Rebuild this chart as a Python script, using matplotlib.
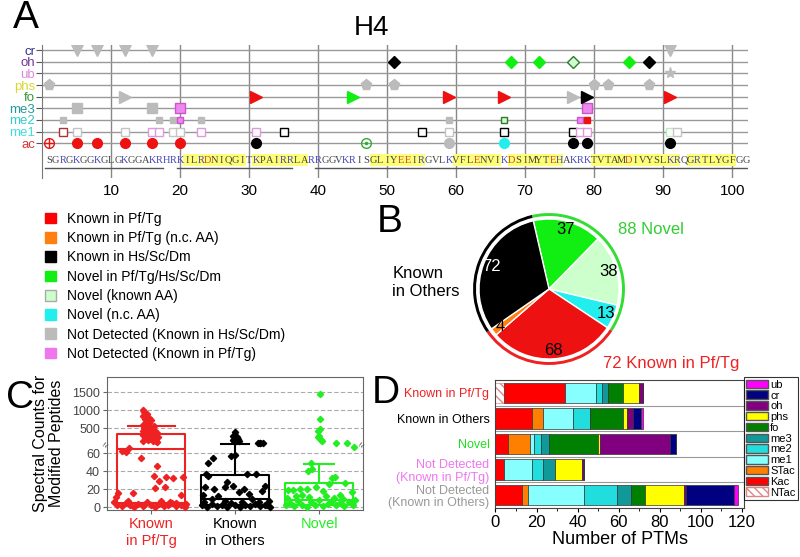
import numpy as np
import matplotlib.pyplot as plt
from matplotlib.patches import Patch

plt.rcParams['font.family'] = ['Liberation Sans', 'DejaVu Sans']

# ---------------- panel A: PTM map on H4
rows = ['ac', 'me1', 'me2', 'me3', 'fo', 'phs', 'ub', 'oh', 'cr']
row_colors = ['#dd3333', '#44dddd', '#33cccc', '#229999', '#339933',
              '#d8d830', '#dd88dd', '#773399', '#333388']
row_markers = ['o', 's', 's', 's', '>', 'p', '*', 'D', 'v']
row_sizes = [7, 6, 4.5, 7, 8, 8, 8, 6, 8]
sequence = "SGRGKGGKGLGKGGAKRHRKILRDNIQGITKPAIRRLARRGGVKRISGLIYEEIRGVLKVFLENVIKDSIMYTEHAKRKTVTAMDIVYSLKRQGRTLYGFGG"

ac_pos = [1, 5, 8, 12, 16, 20, 31, 47, 59, 67, 77, 79, 91]
ac_cat = ['pfo', 'pf', 'pf', 'pf', 'pf', 'pf', 'hs', 'novo', 'nd', 'nc', 'hs', 'hs', 'hs']
me1_pos = [3, 5, 12, 16, 17, 19, 20, 23, 31, 35, 55, 59, 67, 77, 78, 79, 91, 92]
me1_cat = ['pf', 'nd', 'nd', 'ndpf', 'ndpf', 'nd', 'nd', 'ndpf', 'ndpf', 'hs', 'hs', 'nd',
           'hs', 'hs', 'ndpf', 'ndpf', 'novk', 'nd']
me2_pos = [3, 17, 19, 20, 23, 59, 67, 78, 79]
me2_cat = ['nd', 'nd', 'nd', 'ndpf', 'nd', 'nd', 'novk', 'ndpf', 'pf']
me3_pos = [5, 16, 20, 79]
me3_cat = ['nd', 'nd', 'ndpf', 'ndpf']
fo_pos = [12, 31, 45, 59, 67, 77, 79, 91]
fo_cat = ['nd', 'pf', 'nov', 'pf', 'pf', 'nd', 'hs', 'pf']
phs_pos = [1, 47, 51, 80, 82, 88]
phs_cat = ['nd'] * 6
ub_pos = [91]
ub_cat = ['nd']
oh_pos = [51, 68, 72, 77, 85, 88]
oh_cat = ['hs', 'nov', 'nov', 'novk', 'nov', 'hs']
cr_pos = [5, 8, 12, 16, 91]
cr_cat = ['nd'] * 5
row_pos = [ac_pos, me1_pos, me2_pos, me3_pos, fo_pos, phs_pos, ub_pos, oh_pos, cr_pos]
row_cat = [ac_cat, me1_cat, me2_cat, me3_cat, fo_cat, phs_cat, ub_cat, oh_cat, cr_cat]

highlight_spans = [(20.5, 29.5), (30.5, 38.5), (47.5, 55.5), (59.5, 66.5),
                   (67.5, 75.5), (79.5, 92.5), (93.5, 100.5)]
underline_spans = [(0.5, 17.5), (19.6, 36.2), (39.6, 102.3)]

cat_face = {'pf': '#ee1111', 'pfo': 'none', 'hs': 'black', 'nov': '#11ee11',
            'novk': '#ccffcc', 'novo': 'none', 'nc': '#22eeee', 'nd': '#bbbbbb',
            'ndpf': '#ee88ee'}
cat_edge = {'pf': '#ee1111', 'pfo': '#ee1111', 'hs': 'black', 'nov': '#11ee11',
            'novk': '#337733', 'novo': '#33aa33', 'nc': '#22eeee', 'nd': '#bbbbbb',
            'ndpf': '#cc55cc'}
open_edge = {'pf': '#aa3333', 'nd': '#c4c4c4', 'ndpf': '#dd99dd', 'hs': 'black',
             'novk': '#bbeebb'}

# ---------------- panel A legend
legend_labels = ['Known in Pf/Tg', 'Known in Pf/Tg (n.c. AA)', 'Known in Hs/Sc/Dm',
                 'Novel in Pf/Tg/Hs/Sc/Dm', 'Novel (known AA)', 'Novel (n.c. AA)',
                 'Not Detected (Known in Hs/Sc/Dm)', 'Not Detected (Known in Pf/Tg)']
legend_colors = ['#ff0000', '#ff8010', '#000000', '#11ee11', '#ccffcc', '#22eeee',
                 '#bbbbbb', '#ee77ee']

# ---------------- panel B: pie
pie_values = [37, 38, 13, 68, 4, 72]
pie_colors = ['#11ee11', '#ccffcc', '#22eeee', '#ee1111', '#ff8010', '#000000']
pie_text_colors = ['black', 'black', 'black', 'black', 'black', 'white']
ring_values = [88, 72, 72]
ring_colors = ['#33dd33', '#ee2222', '#000000']

# ---------------- panel C: spectral counts
box_names = ['Known\nin Pf/Tg', 'Known\nin Others', 'Novel']
box_colors = ['#ee2222', '#000000', '#22ee22']
box_q1 = [5, 2, 3]
box_med = [64, 9, 8]
box_q3 = [350, 36, 27]
box_whishi = [570, 70, 48]
cap_widths = [0.56, 0.33, 0.36]

red_off = [-0.1, -0.08, -0.05, -0.09, -0.03, -0.07, 0.0, -0.06, -0.02, -0.09, 0.03, -0.04,
           -0.08, 0.01, -0.05, 0.05, -0.1, -0.02, 0.07, -0.06, 0.02, -0.1, 0.04, -0.03,
           0.08, -0.07, 0.0, 0.05, -0.04, 0.06, -0.09, 0.02, 0.07,
           -0.30, -0.26, -0.34, -0.12, 0.07, 0.03, 0.1, 0.05, 0.18, 0.26, 0.38, 0.17,
           0.35, -0.39, -0.21, -0.42, -0.44,
           -0.4, -0.35, -0.3, -0.25, -0.2, -0.15, -0.1, -0.05, 0.0, 0.05, 0.1, 0.15,
           0.2, 0.25, 0.3, 0.35, 0.4, 0.42, -0.28, 0.12, 0.22, -0.08, 0.3]
red_val = [1000, 960, 900, 850, 800, 760, 720, 680, 640, 600, 570, 540, 510, 480, 460,
           440, 420, 400, 380, 360, 340, 320, 300, 280, 260, 240, 220, 200, 180, 160,
           150, 140, 130,
           61, 66, 62, 55, 45.5, 35, 29, 21, 33.7, 32.6, 33.7, 22, 13.3, 16, 16, 11, 6,
           3, 1, 5, 2, 0.5, 4, 1.5, 6, 2, 0.5, 4, 1, 3, 5, 1.5, 3, 0.5, 4, 7, 7, 6, 3, 4.5]
black_off = [0.0, -0.02, 0.02, 0.0, 0.03, -0.03, 0.01, 0.04, -0.01, 0.27, 0.3, 0.33, 0.29,
             -0.26, -0.32, -0.05, 0.0, -0.35, -0.32, 0.14, 0.25, -0.10, -0.36, -0.25,
             -0.12, -0.03, 0.11, 0.35, 0.32, -0.38, -0.2, 0.04, 0.16, -0.28, 0.2, 0.4,
             -0.4, -0.34, -0.28, -0.22, -0.16, -0.1, -0.05, 0.0, 0.06, 0.12, 0.18, 0.24,
             0.3, 0.36, 0.42, -0.37, 0.08, 0.28, -0.12, 0.38]
black_val = [412, 300, 250, 220, 200, 180, 165, 150, 140, 100, 100, 100, 95,
             55, 49, 57, 58, 36.7, 34.4, 36.7, 36.7, 28, 22.6, 20, 22.6, 23.3, 20.7,
             23.7, 18, 13.3, 12.2, 17, 14.4, 9, 9, 7,
             2, 0.5, 4, 1, 3, 0.5, 5, 2, 0.5, 3, 1, 4, 1.5, 3, 0.5, 6, 6, 6, 7, 2]
green_off = [0.01, 0.01, 0.01, -0.01, 0.0, -0.01, 0.02, 0.03, 0.2, 0.33, 0.41,
             -0.13, -0.09, -0.10, 0.15, 0.19, 0.31, -0.04, -0.23, -0.31, -0.15, -0.37,
             0.39, 0.11, 0.05, 0.25, -0.2,
             -0.4, -0.35, -0.3, -0.25, -0.2, -0.15, -0.1, -0.05, 0.0, 0.05, 0.1, 0.15,
             0.2, 0.25, 0.3, 0.35, 0.4, -0.38, -0.12, 0.08, 0.28, 0.42, -0.28, 0.18]
green_val = [1460, 755, 478, 420, 300, 250, 180, 150, 85, 85, 67,
             40, 42, 48.5, 32, 33, 27, 22.6, 20.7, 19, 20, 19, 17, 26, 18, 14, 14,
             2, 5, 1, 7, 3, 0.5, 6, 2, 8, 1, 4, 7, 2, 5, 1, 6, 3, 10, 11, 12, 9, 8,
             12, 10]
point_off = [red_off, black_off, green_off]
point_val = [red_val, black_val, green_val]

# ---------------- panel D: PTM counts
groups = ['Known in Pf/Tg', 'Known in Others', 'Novel',
          'Not Detected\n(Known in Pf/Tg)', 'Not Detected\n(Known in Others)']
group_colors = ['#ee2222', '#000000', '#22dd22', '#ee77ee', '#999999']
ptm_types = ['NTac', 'Kac', 'STac', 'me1', 'me2', 'me3', 'fo', 'phs', 'oh', 'cr', 'ub']
ptm_colors = ['white', '#ff0000', '#ff8000', '#88ffff', '#22dddd', '#119999',
              '#008000', '#ffff00', '#800080', '#000080', '#ff00ff']
NTac = [4, 0, 0, 0, 0]
Kac = [30, 18, 6, 4, 13]
STac = [0, 5, 11, 0, 3]
me1 = [15, 15, 2, 14, 27]
me2 = [3, 8, 3, 5, 16]
me3 = [3, 0, 4, 6, 7]
fo = [7, 16, 24, 0, 7]
phs = [8, 2, 1, 13, 19]
oh = [2, 3, 34, 1, 1]
cr = [0, 4, 3, 0, 23]
ub = [0, 1, 0, 0, 2]
ptm_counts = [NTac, Kac, STac, me1, me2, me3, fo, phs, oh, cr, ub]


def fwd(v):
    v = np.asarray(v, float)
    return np.where(v <= 70, v, 70 + 0.04 * (v - 70))


def inv(t):
    t = np.asarray(t, float)
    return np.where(t <= 70, t, 70 + (t - 70) / 0.04)


def px(l, t, r, b):
    # pixel box -> figure fraction rect
    return [l / 800, 1 - b / 557, (r - l) / 800, (b - t) / 557]


fig = plt.figure(figsize=(8, 5.57), dpi=100)

# ---------- A
axA = fig.add_axes(px(42, 45, 748, 178))
axA.set_xlim(0, 102.3)
axA.set_ylim(-3.0, 8.45)
for x in range(10, 101, 10):
    axA.axvline(x, color='#888888', lw=1, zorder=0)
for y in range(len(rows)):
    axA.axhline(y, color='#999999', lw=1, zorder=0)
for y, (pos, cats) in enumerate(zip(row_pos, row_cat)):
    for p, c in zip(pos, cats):
        m, ms = row_markers[y], row_sizes[y]
        if rows[y] == 'me1':
            axA.plot(p, y, m, ms=ms, mfc='white', mec=open_edge[c], mew=1, zorder=3)
        else:
            axA.plot(p, y, m, ms=ms, mfc=cat_face[c], mec=cat_edge[c], mew=1, zorder=3)
            if c == 'pfo':
                axA.plot(p, y, '+', ms=ms, mec='#ee1111', mew=1, zorder=4)
            if c == 'novo':
                axA.plot(p, y, '.', ms=3, color='#33aa33', zorder=4)
for a, b in highlight_spans:
    axA.axvspan(a, b, ymin=(-2.0 + 3.0) / 11.45, ymax=(-0.95 + 3.0) / 11.45,
                color='#ffff77', lw=0, zorder=1)
for i, ch in enumerate(sequence):
    col = '#4444bb' if ch in 'KRH' else ('#cc4433' if ch in 'DE' else '#444444')
    axA.text(i + 1, -1.47, ch, ha='center', va='center', fontsize=7.5,
             family='Liberation Serif', color=col, zorder=2)
for a, b in underline_spans:
    axA.plot([a, b], [-2.15, -2.15], color='#555555', lw=1, zorder=2)
axA.set_yticks(range(len(rows)))
axA.set_yticklabels(rows, fontsize=9.5)
for lab, c in zip(axA.get_yticklabels(), row_colors):
    lab.set_color(c)
axA.set_xticks(range(10, 101, 10))
axA.tick_params(axis='x', length=0, labelsize=11, pad=4)
axA.tick_params(axis='y', length=4, color='#555555', pad=1)
for s in ['top', 'right', 'bottom']:
    axA.spines[s].set_visible(False)
axA.spines['left'].set_color('#777777')
fig.text(372 / 800, 1 - 28 / 557, 'H4', fontsize=20, ha='center', va='center')

handles = [Patch(facecolor=c, edgecolor='#aaaaaa' if c == '#ccffcc' else c)
           for c in legend_colors]
fig.legend(handles, legend_labels, loc='upper left', bbox_to_anchor=(38 / 800, 1 - 205 / 557),
           frameon=False, fontsize=10, handlelength=0.8, handleheight=0.8,
           handletextpad=0.8, labelspacing=0.38, borderpad=0)

# ---------- B
axB = fig.add_axes(px(549 - 87.5, 289 - 87.5, 549 + 87.5, 289 + 87.5))
wedges, texts = axB.pie(pie_values, colors=pie_colors, startangle=103, counterclock=False,
                        radius=1.0, labels=[str(v) for v in pie_values], labeldistance=0.88,
                        wedgeprops=dict(edgecolor='white', linewidth=1))
for t, c in zip(texts, pie_text_colors):
    t.set_color(c)
    t.set_fontsize(12)
    t.set_ha('center')
    t.set_va('center')
axB.pie(ring_values, colors=ring_colors, startangle=103, counterclock=False, radius=1.085,
        wedgeprops=dict(width=0.042, edgecolor='none'))
axB.set_xlim(-1.25, 1.25)
axB.set_ylim(-1.25, 1.25)
axB.set_aspect('equal')
axB.text(0.986, 0.843, '88 Novel', color='#33cc33', fontsize=12, ha='left', va='center')
axB.text(0.771, -1.06, '72 Known in Pf/Tg', color='#ee2222', fontsize=12, ha='left',
         va='center')
axB.text(-2.24, 0.1, 'Known\nin Others', color='black', fontsize=12, ha='left',
         va='center', linespacing=1.25)

# ---------- C
axC = fig.add_axes(px(107, 377, 363, 510))
axC.set_yscale('function', functions=(fwd, inv))
axC.set_ylim(-3, 1920)
axC.set_xlim(0.476, 3.52)
yt = [0, 20, 40, 60, 500, 1000, 1500]
for v in yt:
    axC.axhline(v, color='#aaaaaa', lw=0.8, ls=(0, (4, 2)), zorder=0)
stats = []
for i in range(3):
    stats.append(dict(med=box_med[i], q1=box_q1[i], q3=box_q3[i],
                      whislo=box_q1[i], whishi=box_whishi[i]))
for i in range(3):
    c = box_colors[i]
    axC.bxp([stats[i]], positions=[i + 1], widths=0.81, showfliers=False,
            capwidths=[cap_widths[i]],
            boxprops=dict(color=c, lw=1.5), medianprops=dict(color=c, lw=1.5),
            whiskerprops=dict(color=c, lw=1.5), capprops=dict(color=c, lw=1.5))
    axC.plot(np.array(point_off[i]) + i + 1, point_val[i], 'D', ms=3.2, color=c,
             mec=c, zorder=3, clip_on=False)
axC.set_yticks(yt)
axC.set_yticklabels([str(v) for v in yt], fontsize=9, color='#444444')
axC.set_xticks([1, 2, 3])
axC.set_xticklabels(box_names, fontsize=10.5, linespacing=1.3)
for lab, c in zip(axC.get_xticklabels(), box_colors):
    lab.set_color(c)
axC.tick_params(axis='both', color='#666666', length=3, pad=2)
for s in axC.spines.values():
    s.set_color('#666666')
axC.set_ylabel('Spectral Counts for\nModified Peptides', fontsize=11.5, labelpad=6,
               linespacing=1.1)
for xa in (0, 1):
    axC.text(xa, 69, '≈', transform=axC.get_yaxis_transform(), fontsize=7,
             ha='center', va='center', rotation=60, color='#555555')

# ---------- D
axD = fig.add_axes(px(495, 380, 744, 508))
left = np.zeros(len(groups))
ypos = np.arange(len(groups))
for name, col, vals in zip(ptm_types, ptm_colors, ptm_counts):
    if name == 'NTac':
        axD.barh(ypos, vals, left=left, height=0.8, color='white', edgecolor='#dd8888',
                 hatch='\\\\\\\\', lw=0.5)
    else:
        axD.barh(ypos, vals, left=left, height=0.8, color=col, edgecolor='#333333', lw=0.5)
    left += np.array(vals)
for y in [0.5, 1.5, 2.5, 3.5]:
    axD.axhline(y, color='#999999', lw=0.8, zorder=0)
axD.set_ylim(4.5, -0.5)
axD.set_xlim(-0.2, 121)
axD.set_yticks(ypos)
axD.set_yticklabels(groups, fontsize=9, linespacing=1.05)
for lab, c in zip(axD.get_yticklabels(), group_colors):
    lab.set_color(c)
axD.set_xticks(range(0, 121, 20))
axD.set_xticks(range(0, 121, 10), minor=True)
axD.tick_params(axis='x', labelsize=12, length=3, pad=2)
axD.tick_params(axis='y', length=0, pad=4)
axD.set_xlabel('Number of PTMs', fontsize=13, labelpad=1)
for s in axD.spines.values():
    s.set_color('#444444')
leg_handles = []
for name, col in zip(ptm_types, ptm_colors):
    if name == 'NTac':
        leg_handles.append(Patch(facecolor='white', edgecolor='#dd8888', hatch='\\\\\\\\'))
    else:
        leg_handles.append(Patch(facecolor=col, edgecolor='#555555'))
leg = axD.legend(leg_handles[::-1], ptm_types[::-1], loc='upper left',
                 bbox_to_anchor=(1.0, 1.02), fontsize=8, handlelength=2.0,
                 handleheight=0.8, labelspacing=0.06, borderpad=0.2, handletextpad=0.15,
                 borderaxespad=0, fancybox=False, edgecolor='black')
leg.get_frame().set_linewidth(0.8)

# ---------- panel letters
for lab, (x, y) in zip('ABCD', [(26, 18), (390, 222), (20, 398), (386, 393)]):
    fig.text(x / 800, 1 - y / 557, lab, fontsize=28, ha='center', va='center')

fig.savefig('out.png', dpi=100)
